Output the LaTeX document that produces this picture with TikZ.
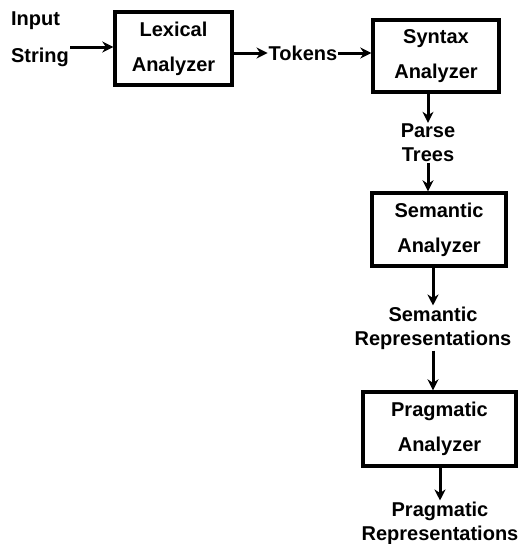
\documentclass[tikz,border=0pt]{standalone}
\usepackage{fontspec}
\setmainfont{Liberation Sans}
\usetikzlibrary{arrows.meta}

\begin{document}
\begin{tikzpicture}[x=1pt, y=-1pt,
    stage/.style={draw, line width=3.4pt, align=center, inner sep=0pt,
      font=\bfseries\fontsize{20}{35}\selectfont},
    data/.style={align=center, inner sep=1pt,
      font=\bfseries\fontsize{20}{24}\selectfont},
    flow/.style={line width=3pt, -{Stealth[length=11pt, width=11pt]}}]
      \useasboundingbox (0, 0) rectangle (520, 544);
      \node[data, align=left, font=\bfseries\fontsize{20}{37}\selectfont] (input) at (40, 39) {Input\\String};
      \node[stage, minimum width=117, minimum height=73] (lex) at (173.5, 48.5) {Lexical\\Analyzer};
      \node[data] (tokens) at (303, 53) {Tokens};
      \node[stage, minimum width=126, minimum height=72] (syn) at (436, 56) {Syntax\\Analyzer};
      \node[data] (parse) at (428, 143) {Parse\\Trees};
      \node[stage, minimum width=134, minimum height=73] (sem) at (439, 229.5) {Semantic\\Analyzer};
      \node[data] (semrep) at (433, 328) {Semantic\\Representations};
      \node[stage, minimum width=153, minimum height=74] (prag) at (439.5, 429) {Pragmatic\\Analyzer};
      \node[data] (pragrep) at (440, 523) {Pragmatic\\Representations};
      \draw[flow] ([yshift=-8]input.east) -- ([yshift=-8]input.east -| lex.west);
      \draw[flow] (lex.east |- tokens) -- (tokens.west);
      \draw[flow] (tokens.east) -- (tokens.east -| syn.west);
      \draw[flow] (parse.north |- syn.south) -- (parse.north);
      \draw[flow] (parse.south) -- (parse.south |- sem.north);
      \draw[flow] (semrep.north |- sem.south) -- (semrep.north);
      \draw[flow] (semrep.south) -- (semrep.south |- prag.north);
      \draw[flow] (pragrep.north |- prag.south) -- (pragrep.north);
    \end{tikzpicture}
\end{document}
